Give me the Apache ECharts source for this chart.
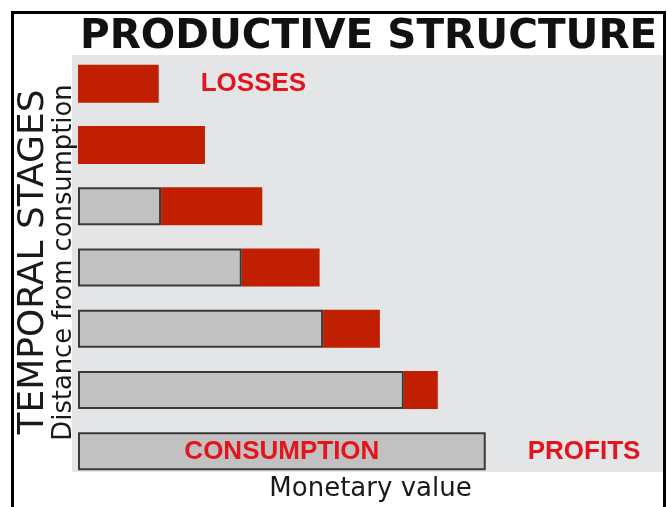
<!DOCTYPE html>
<html>
<head>
<meta charset="utf-8">
<script src="https://cdn.jsdelivr.net/npm/echarts@6/dist/echarts.min.js"></script>
<style>
  html, body { margin: 0; padding: 0; background: #fff; }
  #chart { width: 667px; height: 507px; }
</style>
</head>
<body>
<div id="chart"></div>
<script>
// temporal stages, top = furthest from consumption
const stages = ['Stage 6', 'Stage 5', 'Stage 4', 'Stage 3', 'Stage 2', 'Stage 1', 'Consumption']
// value already produced (gray) and value added at each stage (red)
const baseValues = ['-', '-', 14.2, 28.0, 41.9, 55.7, 69.7]
const addedValues = [13.8, 21.7, 17.3, 13.3, 9.7, 5.8, 0]
const valueMax = 100

const chart = echarts.init(document.getElementById('chart'))

const redLabel = {
  color: '#e3141c',
  fontFamily: 'Liberation Sans, Arial, sans-serif',
  fontWeight: 'bold',
  fontSize: 26
}

const option = {
  animation: false,
  backgroundColor: '#fff',
  title: {
    text: 'PRODUCTIVE STRUCTURE',
    left: 80,
    top: 17,
    padding: 0,
    textStyle: {
      fontFamily: 'DejaVu Sans',
      fontWeight: 'bold',
      fontSize: 40.5,
      color: '#111'
    }
  },
  graphic: [
    {
      type: 'rect',
      z: -10,
      shape: { x: 72, y: 55, width: 591, height: 417 },
      style: { fill: '#e4e5e7' }
    },
    {
      type: 'rect',
      z: 100,
      shape: { x: 12.5, y: 12.5, width: 652, height: 520 },
      style: { fill: 'none', stroke: '#000', lineWidth: 3 }
    },
    {
      type: 'text',
      x: 33.5,
      y: 262,
      rotation: Math.PI / 2,
      style: {
        text: 'TEMPORAL STAGES',
        fontFamily: 'DejaVu Sans',
        fontSize: 36,
        fill: '#1a1a1a',
        align: 'center',
        verticalAlign: 'middle'
      }
    }
  ],
  grid: {
    left: 78,
    right: 4,
    top: 53,
    bottom: 25,
    outerBoundsMode: 'none'
  },
  xAxis: {
    type: 'value',
    min: 0,
    max: valueMax,
    name: 'Monetary value',
    nameLocation: 'middle',
    nameGap: -6,
    nameTextStyle: {
      fontFamily: 'DejaVu Sans',
      fontSize: 26,
      color: '#1a1a1a'
    },
    axisLine: { show: false },
    axisTick: { show: false },
    axisLabel: { show: false },
    splitLine: { show: false }
  },
  yAxis: {
    type: 'category',
    data: stages,
    inverse: true,
    name: 'Distance from consumption',
    nameLocation: 'middle',
    nameGap: 1,
    nameTextStyle: {
      fontFamily: 'DejaVu Sans',
      fontSize: 25.8,
      color: '#1a1a1a',
      padding: [0, 0, 0, 10]
    },
    axisLine: { show: false },
    axisTick: { show: false },
    axisLabel: { show: false }
  },
  series: [
    {
      name: 'Produced',
      type: 'bar',
      stack: 'value',
      barWidth: 38,
      data: baseValues,
      itemStyle: {
        color: '#c1c1c1',
        borderColor: '#3a3a3a',
        borderWidth: 2
      },
      label: {
        show: true,
        position: 'inside',
        ...redLabel,
        formatter: p => (p.dataIndex === stages.length - 1 ? 'CONSUMPTION' : '')
      }
    },
    {
      name: 'Added',
      type: 'bar',
      stack: 'value',
      barWidth: 38,
      data: addedValues,
      itemStyle: {
        color: '#c01f02'
      },
      label: {
        show: true,
        position: 'right',
        distance: 42,
        ...redLabel,
        formatter: p => {
          if (p.dataIndex === 0) return 'LOSSES'
          if (p.dataIndex === stages.length - 1) return 'PROFITS'
          return ''
        }
      }
    }
  ]
}

chart.setOption(option)
</script>
</body>
</html>
